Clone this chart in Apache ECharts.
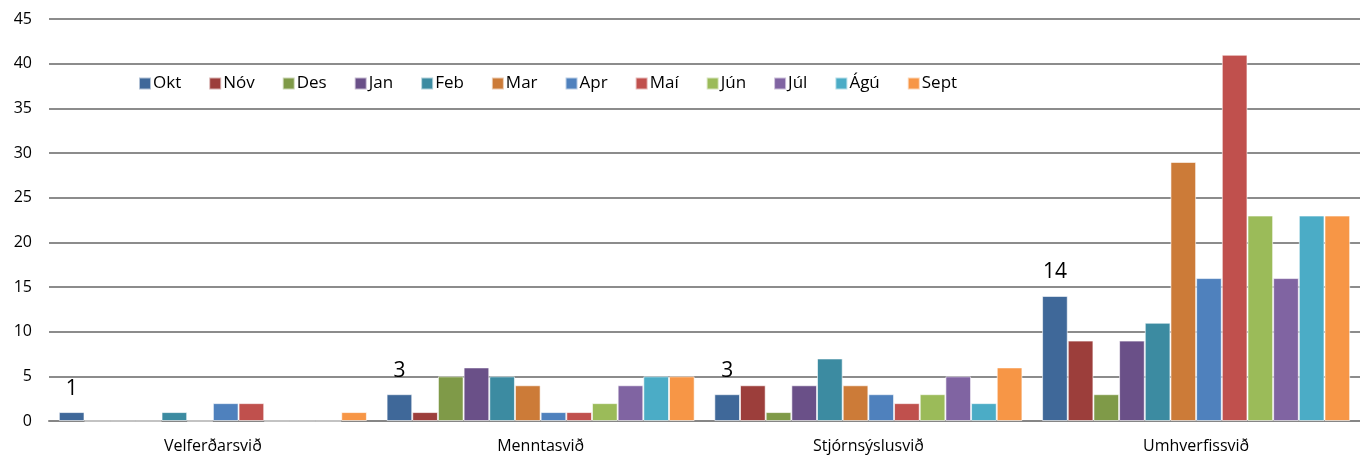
<!DOCTYPE html>
<html>
<head>
<meta charset="utf-8">
<script src="https://cdn.jsdelivr.net/npm/echarts@6/dist/echarts.min.js"></script>
<style>
  html, body { margin: 0; padding: 0; background: #fff; }
  #main { width: 1360px; height: 462px; }
</style>
</head>
<body>
<div id="main"></div>
<script>
// svið (flokkar á x-ás)
var categories = ['Velferðarsvið', 'Menntasvið', 'Stjórnsýslusvið', 'Umhverfissvið'];

// mánuðir (raðir)
var months = ['Okt', 'Nóv', 'Des', 'Jan', 'Feb', 'Mar', 'Apr', 'Maí', 'Jún', 'Júl', 'Ágú', 'Sept'];
var colors = ['#3F6899', '#9C3E3B', '#7F9A48', '#6A5088', '#3C8BA1', '#CC7B38',
              '#4F81BD', '#C0504D', '#9BBB59', '#8064A2', '#4BACC6', '#F79646'];

// gildi fyrir hvern mánuð: Velferð, Mennta, Stjórnsýslu, Umhverfis
var okt  = [1, 3, 3, 14];
var nov  = [0, 1, 4, 9];
var des  = [0, 5, 1, 3];
var jan  = [0, 6, 4, 9];
var feb  = [1, 5, 7, 11];
var mar  = [0, 4, 4, 29];
var apr  = [2, 1, 3, 16];
var mai  = [2, 1, 2, 41];
var jun  = [0, 2, 3, 23];
var jul  = [0, 4, 5, 16];
var agu  = [0, 5, 2, 23];
var sept = [1, 5, 6, 23];
var values = [okt, nov, des, jan, feb, mar, apr, mai, jun, jul, agu, sept];

var yTicks = { min: 0, max: 45, interval: 5 };

var chart = echarts.init(document.getElementById('main'));

var series = months.map(function (m, i) {
    return {
        name: m,
        type: 'bar',
        data: values[i],
        barGap: '0%',
        barCategoryGap: '6%',
        itemStyle: { color: colors[i], borderColor: 'rgba(255,255,255,0.6)', borderWidth: 1 },
        label: {
            show: i === 0,          // aðeins Okt fær gildismerki
            position: 'top',
            distance: 13,
            color: '#000',
            fontSize: 21,
            fontFamily: 'Open Sans'
        }
    };
});

chart.setOption({
    animation: false,
    color: colors,
    textStyle: { fontFamily: 'Open Sans' },
    legend: {
        data: months,
        left: 133,
        top: 70,
        itemWidth: 12,
        itemHeight: 12,
        itemGap: 27,
        icon: 'rect',
        textStyle: { fontSize: 17, color: '#000', padding: [0, 0, 0, -3] }
    },
    grid: { left: 49, right: 0, top: 19, bottom: 41, containLabel: false },
    xAxis: {
        type: 'category',
        data: categories,
        axisLine: { lineStyle: { color: '#868686', width: 2 } },
        axisTick: { show: false },
        axisLabel: { color: '#000', fontSize: 16, margin: 17 }
    },
    yAxis: {
        type: 'value',
        min: yTicks.min,
        max: yTicks.max,
        interval: yTicks.interval,
        axisLine: { show: false },
        axisTick: { show: false },
        axisLabel: { color: '#000', fontSize: 16, margin: 17 },
        splitLine: { lineStyle: { color: '#8c8c8c', width: 2 } }
    },
    series: series
});
</script>
</body>
</html>
